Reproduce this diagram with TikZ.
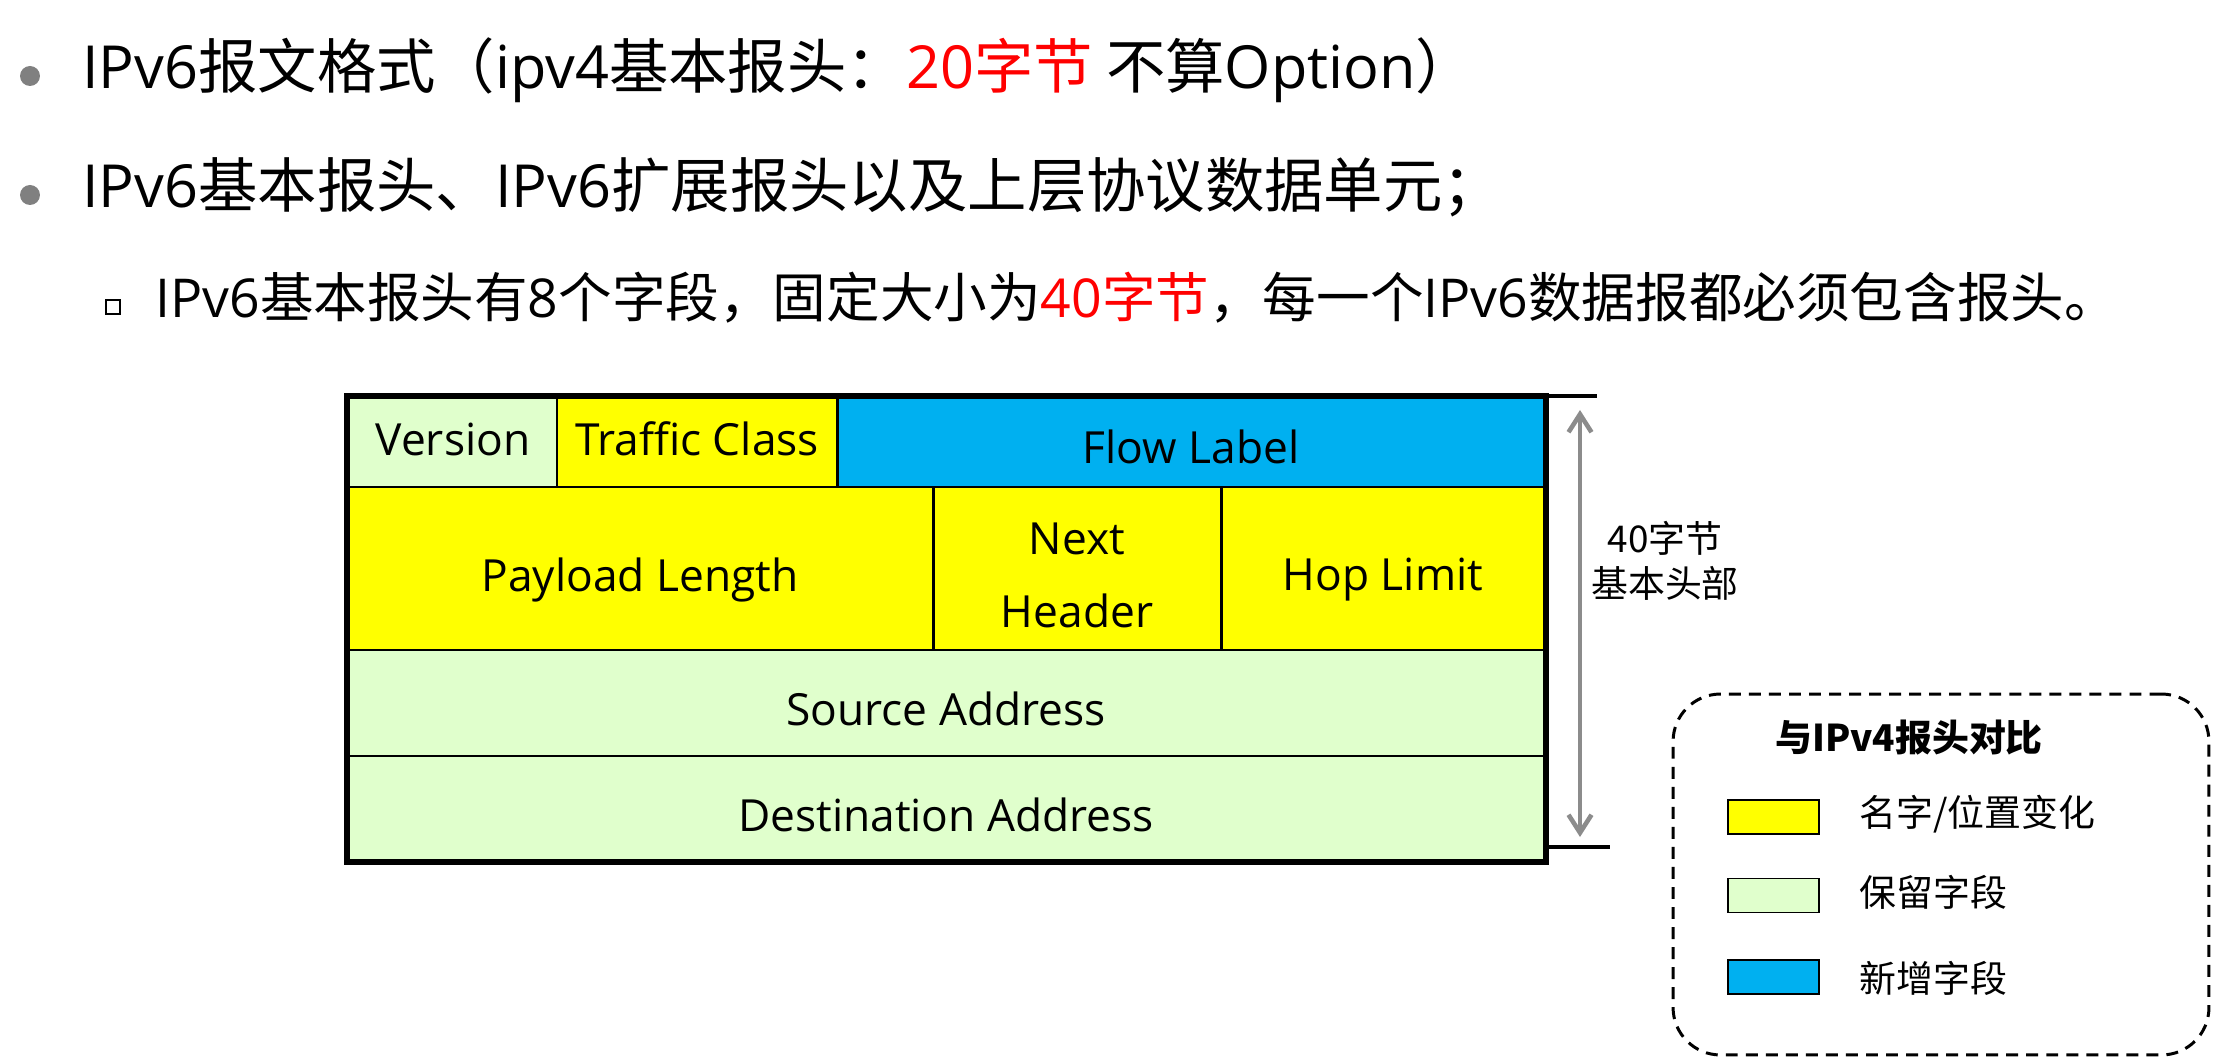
\documentclass[tikz,border=0pt]{standalone}
\usepackage{fontspec}
\setmainfont{Noto Sans CJK SC}
\newfontfamily\lat{Open Sans}
\usetikzlibrary{arrows.meta}
\definecolor{ink}{HTML}{000000}
\definecolor{hot}{HTML}{FF0000}
\definecolor{dot}{HTML}{808080}
\definecolor{chg}{HTML}{FFFF00}
\definecolor{keep}{HTML}{E0FFCC}
\definecolor{newf}{HTML}{00B0F0}
\definecolor{dim}{HTML}{8C8C8C}

\begin{document}
\begin{tikzpicture}[
  x=0.02cm,y=-0.02cm,
  line1/.style={anchor=base west,inner sep=0pt,font=\fontsize{33.8}{40}\selectfont},
  line2/.style={anchor=base west,inner sep=0pt,font=\fontsize{30.5}{37}\selectfont},
  bul/.style={circle,fill=dot,minimum size=0.4cm,inner sep=0pt},
  sqbul/.style={draw=ink,line width=1.6pt,minimum size=0.28cm,inner sep=0pt},
  cell/.style={draw=ink,line width=1.7pt},
  fld/.style={anchor=base,inner sep=0pt,font=\lat\fontsize{25.2}{30}\selectfont},
  legbox/.style={draw=ink,line width=1.7pt,dash pattern={on 6.8pt off 4.6pt},
                 rounded corners=0.95cm,minimum width=10.72cm,minimum height=7.22cm},
  swatch/.style={draw=ink,line width=1.1pt,minimum width=1.82cm,minimum height=0.68cm,
                 inner sep=0pt},
  leg/.style={anchor=west,inner sep=0pt,font=\fontsize{21}{26}\selectfont},
]
\useasboundingbox (0,0) rectangle (2218,1060);

%---------------------------------------------------------------- bullets ---
\node[bul] (b1) at (30,76) {};
\node[line1] (t1) at (82,89)
  {{\lat IPv6}报文格式（{\lat ipv4}基本报头：\textcolor{hot}{{\lat 20}字节} 不算{\lat Option}）};
\node[bul] (b2) at (30,195) {};
\node[line1] (t2) at (82,208)
  {{\lat IPv6}基本报头、{\lat IPv6}扩展报头以及上层协议数据单元；};
\node[sqbul] (b3) at (113,307) {};
\node[line2] (t3) at (155,318)
  {{\lat IPv6}基本报头有{\lat 8}个字段，固定大小为\textcolor{hot}{{\lat 40}字节}，每一个{\lat IPv6}数据报都必须包含报头。};

%------------------------------------------------------------------ header ---
\path[cell,fill=keep] (347,396) rectangle (557,487);
\path[cell,fill=chg]  (557,396) rectangle (837,487);
\path[cell,fill=newf] (837,396) rectangle (1546,487);
\path[cell,fill=chg]  (347,487) rectangle (933,650);
\path[cell,fill=chg]  (933,487) rectangle (1221,650);
\path[cell,fill=chg]  (1221,487) rectangle (1546,650);
\path[cell,fill=keep] (347,650) rectangle (1546,756);
\path[cell,fill=keep] (347,756) rectangle (1546,862);
\draw[ink,line width=3.4pt] (347,396) rectangle (1546,862);

\node[fld] (ver)  at (453,456)  {Version};
\node[fld] (tc)   at (697,456)  {Traffic Class};
\node[fld] (fl)   at (1191,464) {Flow Label};
\node[fld] (plen) at (640,592)  {Payload Length};
\node[fld] (nh1)  at (1077,555) {Next};
\node[fld] (nh2)  at (1077,627) {Header};
\node[fld] (hop)  at (1383,591) {Hop Limit};
\node[fld] (src)  at (946,725)  {Source Address};
\node[fld] (dst)  at (946,831)  {Destination Address};

%---------------------------------------------------------- size marker ---
\draw[ink,line width=2.2pt] (1546,396) -- (1597,396);
\draw[ink,line width=2.2pt] (1546,847) -- (1610,847);
\coordinate (dimtop) at (1580,410);
\coordinate (dimbot) at (1580,837);
\draw[dim,line width=2.6pt,{Straight Barb[length=0.36cm,width=0.46cm]}-{Straight Barb[length=0.36cm,width=0.46cm]}]
  (dimtop) -- (dimbot);
\node[font=\fontsize{21}{26}\selectfont,align=center,inner sep=0pt] (size) at (1665,561)
  {40字节\\基本头部};

%------------------------------------------------------------------ legend ---
\node[legbox] (legend) at (1941,874.5) {};
\node[font=\bfseries\fontsize{21}{26}\selectfont,inner sep=0pt] (legt) at (1909,738)
  {与IPv4报头对比};
\node[swatch,fill=chg]  (sw1) at (1773.5,817) {};
\node[swatch,fill=keep] (sw2) at (1773.5,895.5) {};
\node[swatch,fill=newf] (sw3) at (1773.5,977) {};
\node[leg] (l1) at (1859,814) {名字/位置变化};
\node[leg] (l2) at (1859,892) {保留字段};
\node[leg] (l3) at (1859,978) {新增字段};

\end{tikzpicture}
\end{document}
